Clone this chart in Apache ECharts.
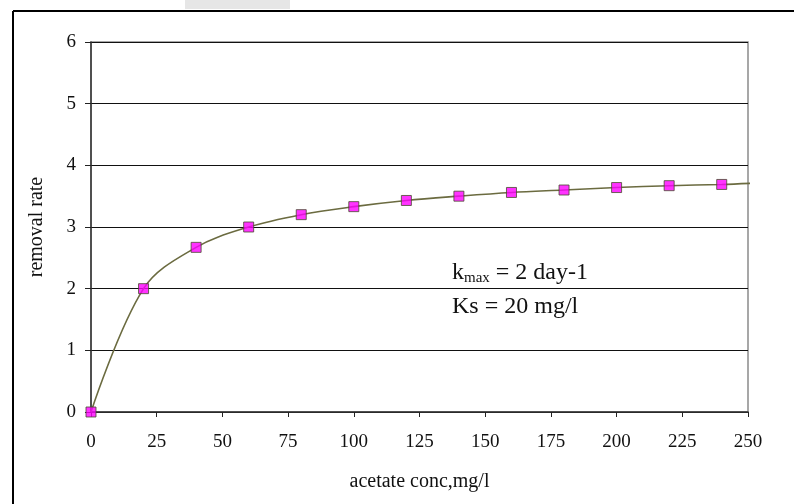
<!DOCTYPE html>
<html><head><meta charset="utf-8">
<script src="https://cdn.jsdelivr.net/npm/echarts@6/dist/echarts.min.js"></script>
<style>html,body{margin:0;padding:0;background:#fff}#c{width:794px;height:504px}</style>
</head><body><div id="c"></div>
<script>
const concentrations = [0, 20, 40, 60, 80, 100, 120, 140, 160, 180, 200, 220, 240];
const removalRates = [0, 2.0, 2.67, 3.0, 3.2, 3.33, 3.43, 3.5, 3.56, 3.6, 3.64, 3.67, 3.69];
const curveX = [0, 20, 40, 60, 80, 100, 120, 140, 160, 180, 200, 220, 240, 252];
const curveY = [0, 2.0, 2.67, 3.0, 3.2, 3.33, 3.43, 3.5, 3.56, 3.6, 3.64, 3.67, 3.69, 3.71];
const xTicks = [0, 25, 50, 75, 100, 125, 150, 175, 200, 225, 250];
const yTicks = [0, 1, 2, 3, 4, 5, 6];

const font = '"Liberation Serif","Times New Roman",serif';
const chart = echarts.init(document.getElementById('c'), null, {renderer: 'canvas'});
chart.setOption({
  animation: false,
  backgroundColor: '#fff',
  grid: {left: 91, right: 46, top: 42, bottom: 92, show: true, borderColor: '#8a8a8a', borderWidth: 1.5},
  xAxis: {
    type: 'value', min: xTicks[0], max: xTicks[xTicks.length - 1], interval: 25,
    name: 'acetate conc,mg/l', nameLocation: 'middle', nameGap: 60,
    nameTextStyle: {fontFamily: font, fontSize: 20, color: '#111'},
    axisLine: {show: true, onZero: false, lineStyle: {color: '#333', width: 1.5}},
    axisTick: {show: true, inside: false, length: 5, lineStyle: {color: '#222'}},
    axisLabel: {fontFamily: font, fontSize: 19, color: '#111', margin: 21},
    splitLine: {show: false}
  },
  yAxis: {
    type: 'value', min: yTicks[0], max: yTicks[yTicks.length - 1], interval: 1,
    name: 'removal rate', nameLocation: 'middle', nameGap: 44, nameRotate: 90,
    nameTextStyle: {fontFamily: font, fontSize: 20, color: '#111'},
    axisLine: {show: true, lineStyle: {color: '#333', width: 1.5}},
    axisTick: {show: true, inside: false, length: 6, lineStyle: {color: '#222'}},
    axisLabel: {fontFamily: font, fontSize: 19, color: '#111', margin: 15},
    splitLine: {show: true, lineStyle: {color: '#111', width: 1.2}}
  },
  series: [
    {
      type: 'line', smooth: 0.35, symbol: 'none', clip: false,
      data: curveX.map((x, i) => [x, curveY[i]]),
      lineStyle: {color: '#6b6b40', width: 1.6}, z: 2
    },
    {
      type: 'scatter', symbol: 'rect', symbolSize: 10, clip: false,
      data: concentrations.map((x, i) => [x, removalRates[i]]),
      itemStyle: {color: '#ff00ff', borderColor: '#4a4a30', borderWidth: 1}, z: 3
    }
  ],
  graphic: [
    {type: 'line', shape: {x1: 13, y1: 11, x2: 794, y2: 11}, style: {stroke: '#000', lineWidth: 2}},
    {type: 'line', shape: {x1: 13, y1: 11, x2: 13, y2: 504}, style: {stroke: '#000', lineWidth: 2}},
    {type: 'rect', shape: {x: 185, y: 0, width: 105, height: 9}, style: {fill: '#e6e6e6'}},
    {type: 'text', left: 452, top: 261, style: {
      text: '{k|k}{s|max}{k| = 2 day-1}', rich: {
        k: {fontFamily: font, fontSize: 24, fill: '#111'},
        s: {fontFamily: font, fontSize: 15, fill: '#111', padding: [11, 0, 0, 0]}
      }}},
    {type: 'text', left: 452, top: 295, style: {text: 'Ks = 20 mg/l', fontFamily: font, fontSize: 24, fill: '#111'}}
  ]
});
</script></body></html>
